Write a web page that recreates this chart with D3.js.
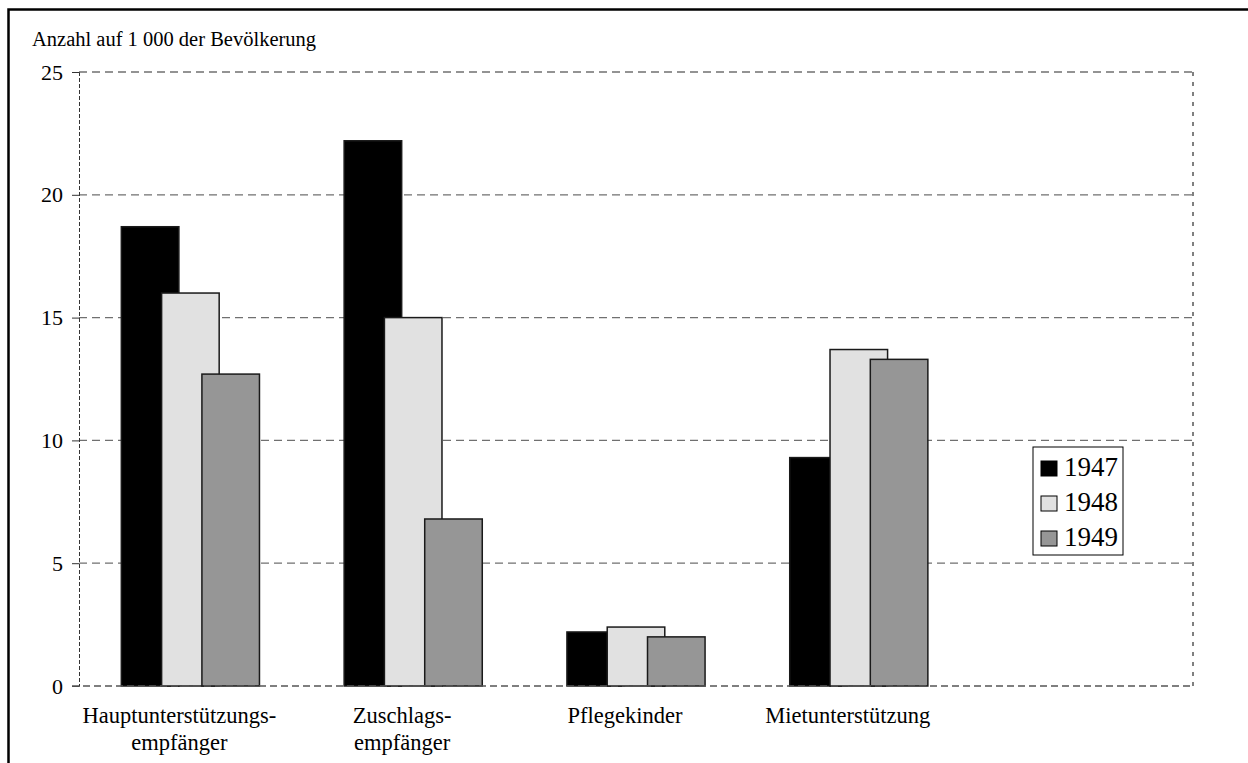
<!DOCTYPE html>
<html>
<head>
<meta charset="utf-8">
<script src="https://cdn.jsdelivr.net/npm/d3@7"></script>
<style>
  body { margin: 0; background: #fff; }
</style>
</head>
<body>
<div id="chart"></div>
<script>
const categories = [
    ["Hauptunterstützungs-", "empfänger"],
    ["Zuschlags-", "empfänger"],
    ["Pflegekinder"],
    ["Mietunterstützung"],
    []                      // empty slot at right, as in the original
];
const years = ["1947", "1948", "1949"];
const values1947 = [18.7, 22.2, 2.2, 9.3];
const values1948 = [16.0, 15.0, 2.4, 13.7];
const values1949 = [12.7, 6.8, 2.0, 13.3];
const yTicks = [0, 5, 10, 15, 20, 25];
const yTitle = "Anzahl auf 1 000 der Bevölkerung";

const colors = ["#000000", "#e1e1e1", "#969696"];
const series = [values1947, values1948, values1949];
const FONT = "'Liberation Serif', 'DejaVu Serif', serif";

const fullwidth = 1248;
const fullheight = 763;
const margin = {left: 79, top: 72, right: 55, bottom: 77};
const width = fullwidth - margin.left - margin.right;
const height = fullheight - margin.top - margin.bottom;

const svg = d3.select("#chart").append("svg")
    .attr("width", fullwidth)
    .attr("height", fullheight)
    .attr("font-family", FONT);

// outer frame (runs off the right and bottom edge)
svg.append("rect")
    .attr("x", 8.5).attr("y", 9.5)
    .attr("width", 1400).attr("height", 900)
    .attr("fill", "none")
    .attr("stroke", "#000")
    .attr("stroke-width", 2.5);

const g = svg.append("g").attr("transform", `translate(${margin.left},${margin.top})`);

const x = d3.scaleBand()
    .domain(d3.range(categories.length))
    .range([0, width]);

const y = d3.scaleLinear()
    .domain([0, 25])
    .range([height, 0]);

// gridlines
g.selectAll(".grid")
    .data(yTicks.filter(d => d > 0))
    .enter().append("line")
    .attr("class", "grid")
    .attr("x1", 0).attr("x2", width)
    .attr("y1", d => y(d)).attr("y2", d => y(d))
    .attr("stroke", "#707070")
    .attr("stroke-width", 1.3)
    .attr("stroke-dasharray", "8,5");

// right border of plot area
g.append("line")
    .attr("x1", width).attr("x2", width)
    .attr("y1", 0).attr("y2", height)
    .attr("stroke", "#808080")
    .attr("stroke-width", 2)
    .attr("stroke-dasharray", "4,6");

// y axis
const yAxis = g.append("g")
    .call(d3.axisLeft(y).tickValues(yTicks).tickSize(7).tickPadding(9))
    .attr("font-family", FONT)
    .attr("font-size", 22);
yAxis.select(".domain")
    .attr("stroke", "#333")
    .attr("stroke-dasharray", "4,2");
yAxis.selectAll(".tick line").attr("stroke", "#333");

// bars
const groupW = x.bandwidth() * 0.62;
const barW = groupW / 2.4;
const step = barW * 0.7;

series.forEach((vals, s) => {
    g.selectAll(".bar" + s)
        .data(vals)
        .enter().append("rect")
        .attr("class", "bar" + s)
        .attr("x", (d, i) => x(i) + (x.bandwidth() - groupW) / 2 + s * step)
        .attr("y", d => y(d))
        .attr("width", barW)
        .attr("height", d => y(0) - y(d))
        .attr("fill", colors[s])
        .attr("stroke", "#1a1a1a")
        .attr("stroke-width", 1.5);
});

// x axis line
g.append("line")
    .attr("x1", -7).attr("x2", width)
    .attr("y1", height).attr("y2", height)
    .attr("stroke", "#555")
    .attr("stroke-width", 1.3)
    .attr("stroke-dasharray", "7,4");

// category labels
categories.forEach((lines, i) => {
    const cx = x(i) + x.bandwidth() / 2 - 11;
    const t = g.append("text")
        .attr("x", cx)
        .attr("y", height + 37)
        .attr("text-anchor", "middle")
        .attr("font-size", 22.5);
    lines.forEach((ln, k) => {
        t.append("tspan")
            .attr("x", cx)
            .attr("dy", k === 0 ? 0 : 27)
            .text(ln);
    });
});

// y title
svg.append("text")
    .attr("x", 32).attr("y", 46)
    .attr("font-size", 20.5)
    .text(yTitle);

// legend
const legend = svg.append("g").attr("transform", "translate(1033,447)");
legend.append("rect")
    .attr("width", 90).attr("height", 108)
    .attr("fill", "#fff")
    .attr("stroke", "#000")
    .attr("stroke-width", 1);
years.forEach((yr, i) => {
    legend.append("rect")
        .attr("x", 8).attr("y", 14 + i * 35)
        .attr("width", 16).attr("height", 15)
        .attr("fill", colors[i])
        .attr("stroke", "#000")
        .attr("stroke-width", 1);
    legend.append("text")
        .attr("x", 31).attr("y", 29 + i * 35)
        .attr("font-size", 27)
        .text(yr);
});
</script>
</body>
</html>
